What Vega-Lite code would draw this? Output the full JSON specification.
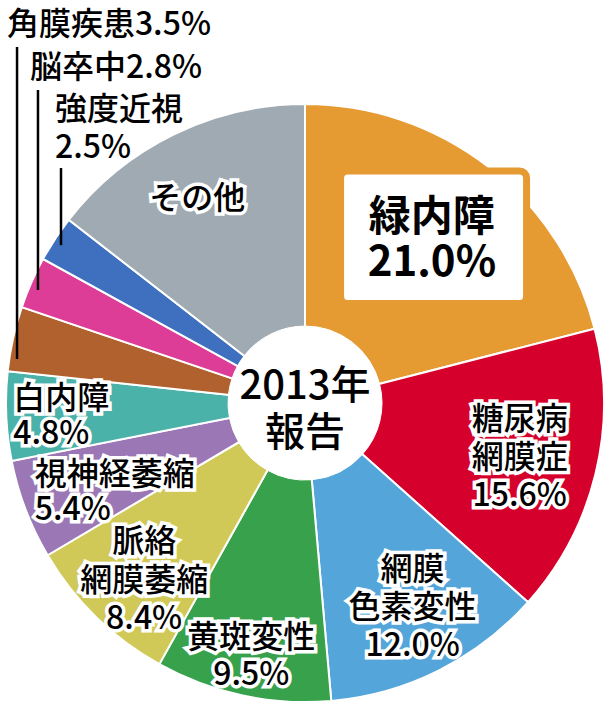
{
  "$schema": "https://vega.github.io/schema/vega-lite/v6.json",
  "width": 610,
  "height": 711,
  "padding": 0,
  "autosize": {"type": "none"},
  "background": "white",
  "config": {
    "view": {"stroke": null},
    "text": {"font": "Noto Sans CJK JP", "fontSize": 32, "fontWeight": 500, "lineBreak": "\n", "lineHeight": 37, "baseline": "middle", "align": "center"}
  },
  "data": {
    "values": [
      {"order": 1, "name": "緑内障", "pct": 21.0, "label": "緑内障\n21.0%"},
      {"order": 2, "name": "糖尿病網膜症", "pct": 15.6, "label": "糖尿病\n網膜症\n15.6%"},
      {"order": 3, "name": "網膜色素変性", "pct": 12.0, "label": "網膜\n色素変性\n12.0%"},
      {"order": 4, "name": "黄斑変性", "pct": 9.5, "label": "黄斑変性\n9.5%"},
      {"order": 5, "name": "脈絡網膜萎縮", "pct": 8.4, "label": "脈絡\n網膜萎縮\n8.4%"},
      {"order": 6, "name": "視神経萎縮", "pct": 5.4, "label": "視神経萎縮\n5.4%"},
      {"order": 7, "name": "白内障", "pct": 4.8, "label": "白内障\n4.8%"},
      {"order": 8, "name": "角膜疾患", "pct": 3.5, "label": "角膜疾患3.5%"},
      {"order": 9, "name": "脳卒中", "pct": 2.8, "label": "脳卒中2.8%"},
      {"order": 10, "name": "強度近視", "pct": 2.5, "label": "強度近視\n2.5%"},
      {"order": 11, "name": "その他", "pct": 14.5, "label": "その他"}
    ]
  },
  "layer": [
    {
      "encoding": {
        "theta": {"field": "pct", "type": "quantitative", "stack": true},
        "order": {"field": "order", "type": "quantitative"},
        "x": {"datum": 0, "type": "quantitative", "axis": null, "scale": {"domain": [-102, 102], "nice": false, "zero": false}},
        "y": {"datum": 0, "type": "quantitative", "axis": null, "scale": {"domain": [-103, 134.8], "nice": false, "zero": false}}
      },
      "layer": [
        {
          "mark": {"type": "arc", "outerRadius": 299, "stroke": "white", "strokeWidth": 2},
          "encoding": {
            "color": {
              "field": "name", "type": "nominal", "legend": null,
              "scale": {
                "domain": ["緑内障", "糖尿病網膜症", "網膜色素変性", "黄斑変性", "脈絡網膜萎縮", "視神経萎縮", "白内障", "角膜疾患", "脳卒中", "強度近視", "その他"],
                "range": ["#E59B32", "#D5002B", "#54A5DA", "#38A14B", "#D1C957", "#9B77B5", "#4BB2A9", "#B0612D", "#DD3D96", "#3E70BF", "#A0AAB2"]
              }
            }
          }
        },
        {"mark": {"type": "arc", "outerRadius": 77, "fill": "white", "stroke": "white", "strokeWidth": 1}}
      ]
    },
    {
      "transform": [{"filter": "datum.name === '緑内障'"}],
      "mark": {"type": "rect", "fill": "white", "stroke": "#E59B32", "strokeWidth": 7, "cornerRadius": 7},
      "encoding": {
        "x": {"datum": 11.9, "type": "quantitative"},
        "x2": {"datum": 74.1},
        "y": {"datum": 77.6, "type": "quantitative"},
        "y2": {"datum": 33.3}
      }
    },
    {
      "encoding": {
        "theta": {"field": "pct", "type": "quantitative", "stack": true},
        "order": {"field": "order", "type": "quantitative"},
        "x": {"datum": 0, "type": "quantitative"},
        "y": {"datum": 0, "type": "quantitative"}
      },
      "layer": [
        {
          "mark": {"type": "text", "radius": 207, "dy": -21, "fontSize": 42, "fontWeight": "bold", "lineHeight": 45, "color": "black"},
          "encoding": {"text": {"condition": {"test": "datum.name === '緑内障'", "field": "label"}, "value": ""}}
        },
        {
          "encoding": {"text": {"condition": {"test": "datum.name === '糖尿病網膜症'", "field": "label"}, "value": ""}},
          "layer": [
            {"mark": {"type": "text", "radius": 221, "dy": -35, "lineHeight": 38}, "encoding": {"color": {"value": "white"}, "stroke": {"value": "white"}, "strokeWidth": {"value": 7}}},
            {"mark": {"type": "text", "radius": 221, "dy": -35, "lineHeight": 38}, "encoding": {"color": {"value": "black"}}}
          ]
        },
        {
          "encoding": {"text": {"condition": {"test": "datum.name === '網膜色素変性'", "field": "label"}, "value": ""}},
          "layer": [
            {"mark": {"type": "text", "radius": 231, "dx": 4, "dy": -40, "lineHeight": 38}, "encoding": {"color": {"value": "white"}, "stroke": {"value": "white"}, "strokeWidth": {"value": 7}}},
            {"mark": {"type": "text", "radius": 231, "dx": 4, "dy": -40, "lineHeight": 38}, "encoding": {"color": {"value": "black"}}}
          ]
        },
        {
          "encoding": {"text": {"condition": {"test": "datum.name === '黄斑変性'", "field": "label"}, "value": ""}},
          "layer": [
            {"mark": {"type": "text", "radius": 257, "dy": -16}, "encoding": {"color": {"value": "white"}, "stroke": {"value": "white"}, "strokeWidth": {"value": 7}}},
            {"mark": {"type": "text", "radius": 257, "dy": -16}, "encoding": {"color": {"value": "black"}}}
          ]
        },
        {
          "encoding": {"text": {"condition": {"test": "datum.name === '脈絡網膜萎縮'", "field": "label"}, "value": ""}},
          "layer": [
            {"mark": {"type": "text", "radius": 239, "dx": 6, "dy": -32, "lineHeight": 38.5}, "encoding": {"color": {"value": "white"}, "stroke": {"value": "white"}, "strokeWidth": {"value": 7}}},
            {"mark": {"type": "text", "radius": 239, "dx": 6, "dy": -32, "lineHeight": 38.5}, "encoding": {"color": {"value": "black"}}}
          ]
        },
        {
          "encoding": {"text": {"condition": {"test": "datum.name === 'その他'", "field": "label"}, "value": ""}},
          "layer": [
            {"mark": {"type": "text", "radius": 231, "dx": -6, "dy": 3}, "encoding": {"color": {"value": "white"}, "stroke": {"value": "white"}, "strokeWidth": {"value": 7}}},
            {"mark": {"type": "text", "radius": 231, "dx": -6, "dy": 3}, "encoding": {"color": {"value": "black"}}}
          ]
        },
        {
          "encoding": {"text": {"condition": {"test": "datum.name === '視神経萎縮'", "field": "label"}, "value": ""}},
          "layer": [
            {"mark": {"type": "text", "radius": 285, "align": "left", "dx": -4, "dy": -30, "lineHeight": 35}, "encoding": {"color": {"value": "white"}, "stroke": {"value": "white"}, "strokeWidth": {"value": 7}}},
            {"mark": {"type": "text", "radius": 285, "align": "left", "dx": -4, "dy": -30, "lineHeight": 35}, "encoding": {"color": {"value": "black"}}}
          ]
        },
        {
          "encoding": {"text": {"condition": {"test": "datum.name === '白内障'", "field": "label"}, "value": ""}},
          "layer": [
            {"mark": {"type": "text", "radius": 292, "align": "left", "dy": -16.5, "lineHeight": 35}, "encoding": {"color": {"value": "white"}, "stroke": {"value": "white"}, "strokeWidth": {"value": 7}}},
            {"mark": {"type": "text", "radius": 292, "align": "left", "dy": -16.5, "lineHeight": 35}, "encoding": {"color": {"value": "black"}}}
          ]
        }
      ]
    },
    {
      "transform": [{"filter": "datum.name === '角膜疾患'"}],
      "layer": [
        {"mark": {"type": "text", "align": "left", "color": "black"}, "encoding": {"x": {"datum": -99.7, "type": "quantitative"}, "y": {"datum": 126.6, "type": "quantitative"}, "text": {"field": "label"}}},
        {"mark": {"type": "rule", "strokeWidth": 2.5, "color": "black"}, "encoding": {"x": {"datum": -96.3, "type": "quantitative"}, "y": {"datum": 119.1, "type": "quantitative"}, "y2": {"datum": 14.7}}}
      ]
    },
    {
      "transform": [{"filter": "datum.name === '脳卒中'"}],
      "layer": [
        {"mark": {"type": "text", "align": "left", "color": "black"}, "encoding": {"x": {"datum": -92.0, "type": "quantitative"}, "y": {"datum": 112.0, "type": "quantitative"}, "text": {"field": "label"}}},
        {"mark": {"type": "rule", "strokeWidth": 2.5, "color": "black"}, "encoding": {"x": {"datum": -89.3, "type": "quantitative"}, "y": {"datum": 104.7, "type": "quantitative"}, "y2": {"datum": 37.8}}}
      ]
    },
    {
      "transform": [{"filter": "datum.name === '強度近視'"}],
      "layer": [
        {"mark": {"type": "text", "align": "left", "color": "black", "lineHeight": 38}, "encoding": {"x": {"datum": -83.6, "type": "quantitative"}, "y": {"datum": 98.0, "type": "quantitative"}, "text": {"field": "label"}}},
        {"mark": {"type": "rule", "strokeWidth": 2.5, "color": "black"}, "encoding": {"x": {"datum": -81.6, "type": "quantitative"}, "y": {"datum": 78.6, "type": "quantitative"}, "y2": {"datum": 52.8}}}
      ]
    },
    {
      "data": {"values": [{"title": "2013年\n報告"}]},
      "mark": {"type": "text", "fontSize": 40, "lineHeight": 47, "color": "black"},
      "encoding": {
        "x": {"datum": 0, "type": "quantitative"},
        "y": {"datum": 5.4, "type": "quantitative"},
        "text": {"field": "title"}
      }
    }
  ]
}
